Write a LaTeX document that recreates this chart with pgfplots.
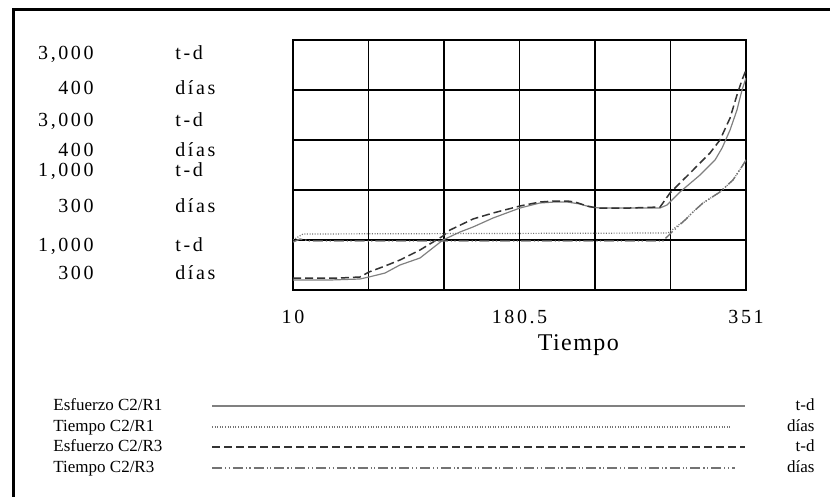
\documentclass[border=0pt]{standalone}
\usepackage{fontspec}
\setmainfont{Liberation Serif}
\newfontfamily\lab[LetterSpace=13]{Liberation Serif}
\newfontfamily\tit[LetterSpace=6]{Liberation Serif}
\usepackage{pgfplots}
\pgfplotsset{compat=1.18}

\pgfplotstableread{
x y
10 1080
37.9 1080
60.4 1088
67.2 1104
79.3 1136
90.5 1200
105.6 1256
122.9 1400
135.7 1464
145.5 1504
160.6 1576
180.9 1656
195.9 1696
207.2 1704
216.3 1704
226.1 1688
233.6 1664
241.1 1656
263.7 1656
286.3 1656
291.5 1680
301.3 1784
316.4 1920
327.7 2040
333.0 2136
339.0 2280
344.2 2440
348.0 2600
351.0 2696
}\esfA

\pgfplotstableread{
x y
10 1096
45.4 1096
60.4 1104
67.2 1144
79.3 1192
90.5 1240
105.6 1320
122.9 1432
128.2 1480
145.5 1568
160.6 1616
180.9 1672
195.9 1704
207.2 1712
216.3 1712
222.3 1704
231.3 1672
238.8 1656
263.7 1656
286.3 1664
293.8 1776
308.9 1936
323.9 2096
331.4 2200
339.0 2376
344.2 2560
348.0 2680
351.0 2760
}\esfB

\pgfplotstableread{
x y
10 320
17.5 322.4
292.3 322.8
295.3 324
305.1 328
311.1 331.2
318.6 334.8
331.4 339.2
341.2 344
348.7 350
351 352
}\tiemA

\pgfplotstableread{
x y
10 319.2
15.3 320.4
22.8 319.6
288.5 319.6
295.3 323.2
305.1 328
311.1 331.2
318.6 334.8
331.4 339.2
341.2 344
348.7 350
351 352
}\tiemB

\begin{document}
\begin{tikzpicture}
\useasboundingbox (0pt,0pt) rectangle (415pt,-248.5pt);

\begin{axis}[
  at={(146.5pt,-145pt)}, anchor=south west,
  scale only axis, width=226.5pt, height=125pt,
  xmin=10, xmax=351, ymin=1000, ymax=3000,
  xtick={10,66.8333,123.6667,180.5,237.3333,294.1667,351},
  xticklabels={10,,,180.5,,,351},
  ytick={1000,1400,1800,2200,2600,3000},
  yticklabels={},
  grid=major, major grid style={black, line width=0.6pt},
  major tick length=0pt,
  axis line style={black, line width=1.3pt},
  /pgf/number format/assume math mode=true,
  xticklabel style={font=\lab\fontsize{10}{12}\selectfont, anchor=center, yshift=-13.5pt},
  xlabel={Tiempo},
  xlabel style={font=\tit\fontsize{12}{14}\selectfont, at={(axis description cs:0.63,0)}, anchor=center, yshift=-27.5pt},
]
\addplot[color=black!50, line width=0.6pt] table {\esfA};
\addplot[color=black!80, line width=0.75pt, dash pattern=on 4pt off 2pt] table {\esfB};
\end{axis}

\begin{axis}[
  at={(146.5pt,-145pt)}, anchor=south west,
  scale only axis, width=226.5pt, height=125pt,
  xmin=10, xmax=351, ymin=300, ymax=400,
  hide axis,
]
\addplot[color=black!55, line width=0.6pt, dash pattern=on 0.5pt off 0.8pt] table {\tiemA};
\addplot[color=black!55, line width=0.7pt, dash pattern=on 5pt off 1.5pt on 0.6pt off 1.2pt on 0.6pt off 1.5pt] table {\tiemB};
\end{axis}

\begin{scope}[x=0.5pt, y=-0.5pt]
  % outer frame (left and top edges)
  \draw[black, line width=1.5pt] (13,500) -- (13,10) -- (832,10);
  % left scale labels
  \begin{scope}[every node/.style={inner sep=0pt, font=\lab\fontsize{10}{12}\selectfont}]
    \node[anchor=mid east] at (94,55)  {3,000};
    \node[anchor=mid west] at (175,55) {t-d};
    \node[anchor=mid east] at (94,90)  {400};
    \node[anchor=mid west] at (175,90) {días};
    \node[anchor=mid east] at (94,122) {3,000};
    \node[anchor=mid west] at (175,122) {t-d};
    \node[anchor=mid east] at (94,152) {400};
    \node[anchor=mid west] at (175,152) {días};
    \node[anchor=mid east] at (94,172) {1,000};
    \node[anchor=mid west] at (175,172) {t-d};
    \node[anchor=mid east] at (94,208) {300};
    \node[anchor=mid west] at (175,208) {días};
    \node[anchor=mid east] at (94,247) {1,000};
    \node[anchor=mid west] at (175,247) {t-d};
    \node[anchor=mid east] at (94,275) {300};
    \node[anchor=mid west] at (175,275) {días};
  \end{scope}
  % legend
  \begin{scope}[every node/.style={inner sep=0pt, font=\fontsize{8.5}{10}\selectfont}]
    \node[anchor=mid west] at (53,406) {Esfuerzo C2/R1};
    \node[anchor=mid west] at (53,427) {Tiempo C2/R1};
    \node[anchor=mid west] at (53,447) {Esfuerzo C2/R3};
    \node[anchor=mid west] at (53,468) {Tiempo C2/R3};
    \node[anchor=mid east] at (815,406) {t-d};
    \node[anchor=mid east] at (815,427) {días};
    \node[anchor=mid east] at (815,447) {t-d};
    \node[anchor=mid east] at (815,468) {días};
  \end{scope}
  \draw[black!50, line width=0.9pt] (212,406) -- (745,406);
  \draw[black!55, line width=0.6pt, dash pattern=on 0.5pt off 0.8pt] (212,427) -- (730,427);
  \draw[black!80, line width=0.75pt, dash pattern=on 4pt off 2pt] (212,447) -- (745,447);
  \draw[black!55, line width=0.7pt, dash pattern=on 5pt off 1.5pt on 0.6pt off 1.2pt on 0.6pt off 1.5pt] (212,468) -- (735,468);
\end{scope}
\end{tikzpicture}
\end{document}
